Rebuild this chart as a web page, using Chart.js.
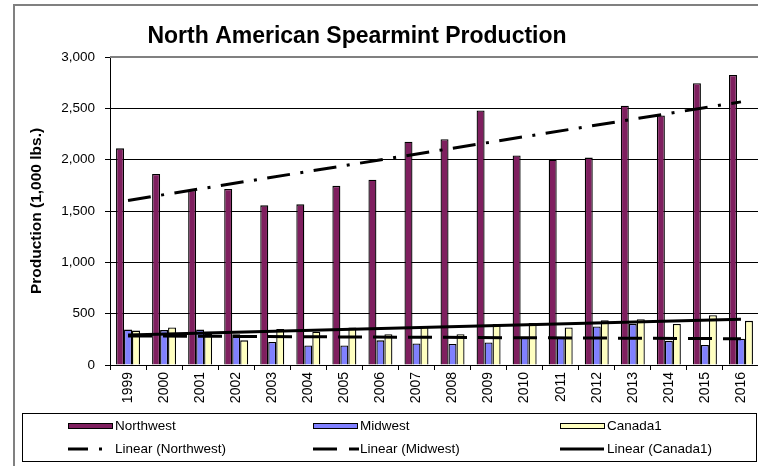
<!DOCTYPE html>
<html><head><meta charset="utf-8">
<script src="https://cdn.jsdelivr.net/npm/chart.js@4/dist/chart.umd.min.js"></script>
<style>
html,body{margin:0;padding:0;background:#fff;overflow:hidden;}
#wrap{position:relative;width:762px;height:466px;}
</style></head><body>
<div id="wrap"><canvas id="c" width="762" height="466"></canvas></div>
<script>
const years = ['1999','2000','2001','2002','2003','2004','2005','2006','2007','2008','2009','2010','2011','2012','2013','2014','2015','2016'];
const northwest = [2110, 1860, 1705, 1715, 1555, 1565, 1745, 1805, 2175, 2200, 2480, 2040, 2000, 2020, 2525, 2430, 2745, 2825];
const midwest   = [345, 340, 345, 300, 225, 190, 190, 240, 210, 205, 220, 265, 265, 375, 400, 235, 195, 255];
const canada1   = [335, 365, 305, 240, 350, 325, 365, 300, 370, 300, 400, 410, 365, 435, 445, 400, 485, 430];
const yTicks = [0, 500, 1000, 1500, 2000, 2500, 3000];
// trend line end values (first and last year)
const trendNorthwest = [1603, 2563];
const trendMidwest = [283, 256];
const trendCanada1 = [292, 445];

const FONT = "'Liberation Sans', Arial, sans-serif";
const colors = { nw: '#7f1f5f', mw: '#8080ff', ca: '#ffffc0' };

function trendData(v) {
  return [{x: years[0], y: v[0]}, {x: years[years.length - 1], y: v[1]}];
}

const decor = {
  id: 'decor',
  afterDraw(chart) {
    const ctx = chart.ctx;
    const a = chart.chartArea;
    ctx.save();
    ctx.strokeStyle = '#808080';
    ctx.lineWidth = 2;
    ctx.beginPath();
    ctx.moveTo(a.left, a.top);
    ctx.lineTo(a.right + 5, a.top);
    ctx.stroke();
    ctx.strokeRect(14, 5, 800, 500);
    ctx.fillStyle = '#000';
    ctx.font = 'bold 23px ' + FONT;
    ctx.textAlign = 'center';
    ctx.textBaseline = 'middle';
    ctx.fillText('North American Spearmint Production', 357, 37);
    ctx.lineWidth = 1;
    ctx.strokeStyle = '#000';
    ctx.strokeRect(22.5, 413.5, 734, 48);
    ctx.font = '13.5px ' + FONT;
    ctx.textAlign = 'left';
    const cols = [68, 313, 560];
    const r1 = 426, r2 = 449;
    const fills = [colors.nw, colors.mw, colors.ca];
    const names = ['Northwest', 'Midwest', 'Canada1'];
    for (let i = 0; i < 3; i++) {
      const x = cols[i];
      ctx.fillStyle = fills[i];
      ctx.fillRect(x, r1 - 2.5, 44, 5);
      ctx.strokeStyle = '#000';
      ctx.lineWidth = 1;
      ctx.strokeRect(x + 0.5, r1 - 2.5, 44, 5);
      ctx.fillStyle = '#000';
      ctx.fillText(names[i], x + 47, r1);
      ctx.fillText('Linear (' + names[i] + ')', x + 47, r2);
    }
    ctx.strokeStyle = '#000';
    ctx.lineWidth = 3;
    ctx.lineCap = 'butt';
    ctx.beginPath(); ctx.moveTo(68, r2); ctx.lineTo(88, r2); ctx.stroke();
    ctx.beginPath(); ctx.moveTo(99, r2); ctx.lineTo(102, r2); ctx.stroke();
    ctx.beginPath(); ctx.moveTo(313, r2); ctx.lineTo(337, r2); ctx.stroke();
    ctx.beginPath(); ctx.moveTo(349, r2); ctx.lineTo(359, r2); ctx.stroke();
    ctx.beginPath(); ctx.moveTo(560, r2); ctx.lineTo(604, r2); ctx.stroke();
    ctx.restore();
  }
};

new Chart(document.getElementById('c'), {
  type: 'bar',
  data: {
    labels: years,
    datasets: [
      { type: 'line', label: 'Linear (Northwest)', data: trendData(trendNorthwest), borderColor: '#000', borderWidth: 3, borderDash: [23, 10.5, 3, 10.5], borderCapStyle: 'butt', pointRadius: 0, fill: false, order: 0 },
      { type: 'line', label: 'Linear (Midwest)', data: trendData(trendMidwest), borderColor: '#000', borderWidth: 3, borderDash: [24, 11], borderCapStyle: 'butt', pointRadius: 0, fill: false, order: 0 },
      { type: 'line', label: 'Linear (Canada1)', data: trendData(trendCanada1), borderColor: '#000', borderWidth: 3, borderCapStyle: 'butt', pointRadius: 0, fill: false, order: 0 },
      { label: 'Northwest', data: northwest, backgroundColor: colors.nw, borderColor: '#000', borderWidth: 1.3, order: 1 },
      { label: 'Midwest', data: midwest, backgroundColor: colors.mw, borderColor: '#000', borderWidth: 1.3, order: 1 },
      { label: 'Canada1', data: canada1, backgroundColor: colors.ca, borderColor: '#000', borderWidth: 1.3, order: 1 }
    ]
  },
  options: {
    responsive: false,
    animation: false,
    devicePixelRatio: 1,
    layout: { padding: { top: 57, left: 0, right: 3, bottom: 53 } },
    datasets: { bar: { categoryPercentage: 0.665, barPercentage: 1.0 } },
    plugins: { legend: { display: false }, title: { display: false }, tooltip: { enabled: false } },
    scales: {
      x: {
        grid: { display: true, drawOnChartArea: false, drawTicks: true, tickLength: 5, offset: true, color: '#000' },
        border: { display: true, color: '#000', width: 1 },
        ticks: { color: '#000', font: { family: FONT, size: 14 }, minRotation: 90, maxRotation: 90, padding: 2, autoSkip: false },
        afterFit(s) { s.height = 48; }
      },
      y: {
        min: 0, max: 3000,
        afterBuildTicks(s) { s.ticks = yTicks.map(v => ({ value: v })); },
        grid: { color: ctx => (ctx.tick && ctx.tick.value === 3000 ? 'rgba(0,0,0,0)' : '#000'), tickColor: '#000', tickLength: 5, drawTicks: true },
        border: { display: true, color: '#000', width: 1 },
        ticks: { color: '#000', font: { family: FONT, size: 13.5 }, padding: 10, callback: v => v.toLocaleString('en-US') },
        title: { display: true, text: 'Production (1,000 lbs.)', color: '#000', font: { family: FONT, size: 15.5, weight: 'bold' }, padding: { top: 27, bottom: 0 } },
        afterFit(s) { s.width = 110; }
      }
    }
  },
  plugins: [decor]
});
</script>
</body></html>
